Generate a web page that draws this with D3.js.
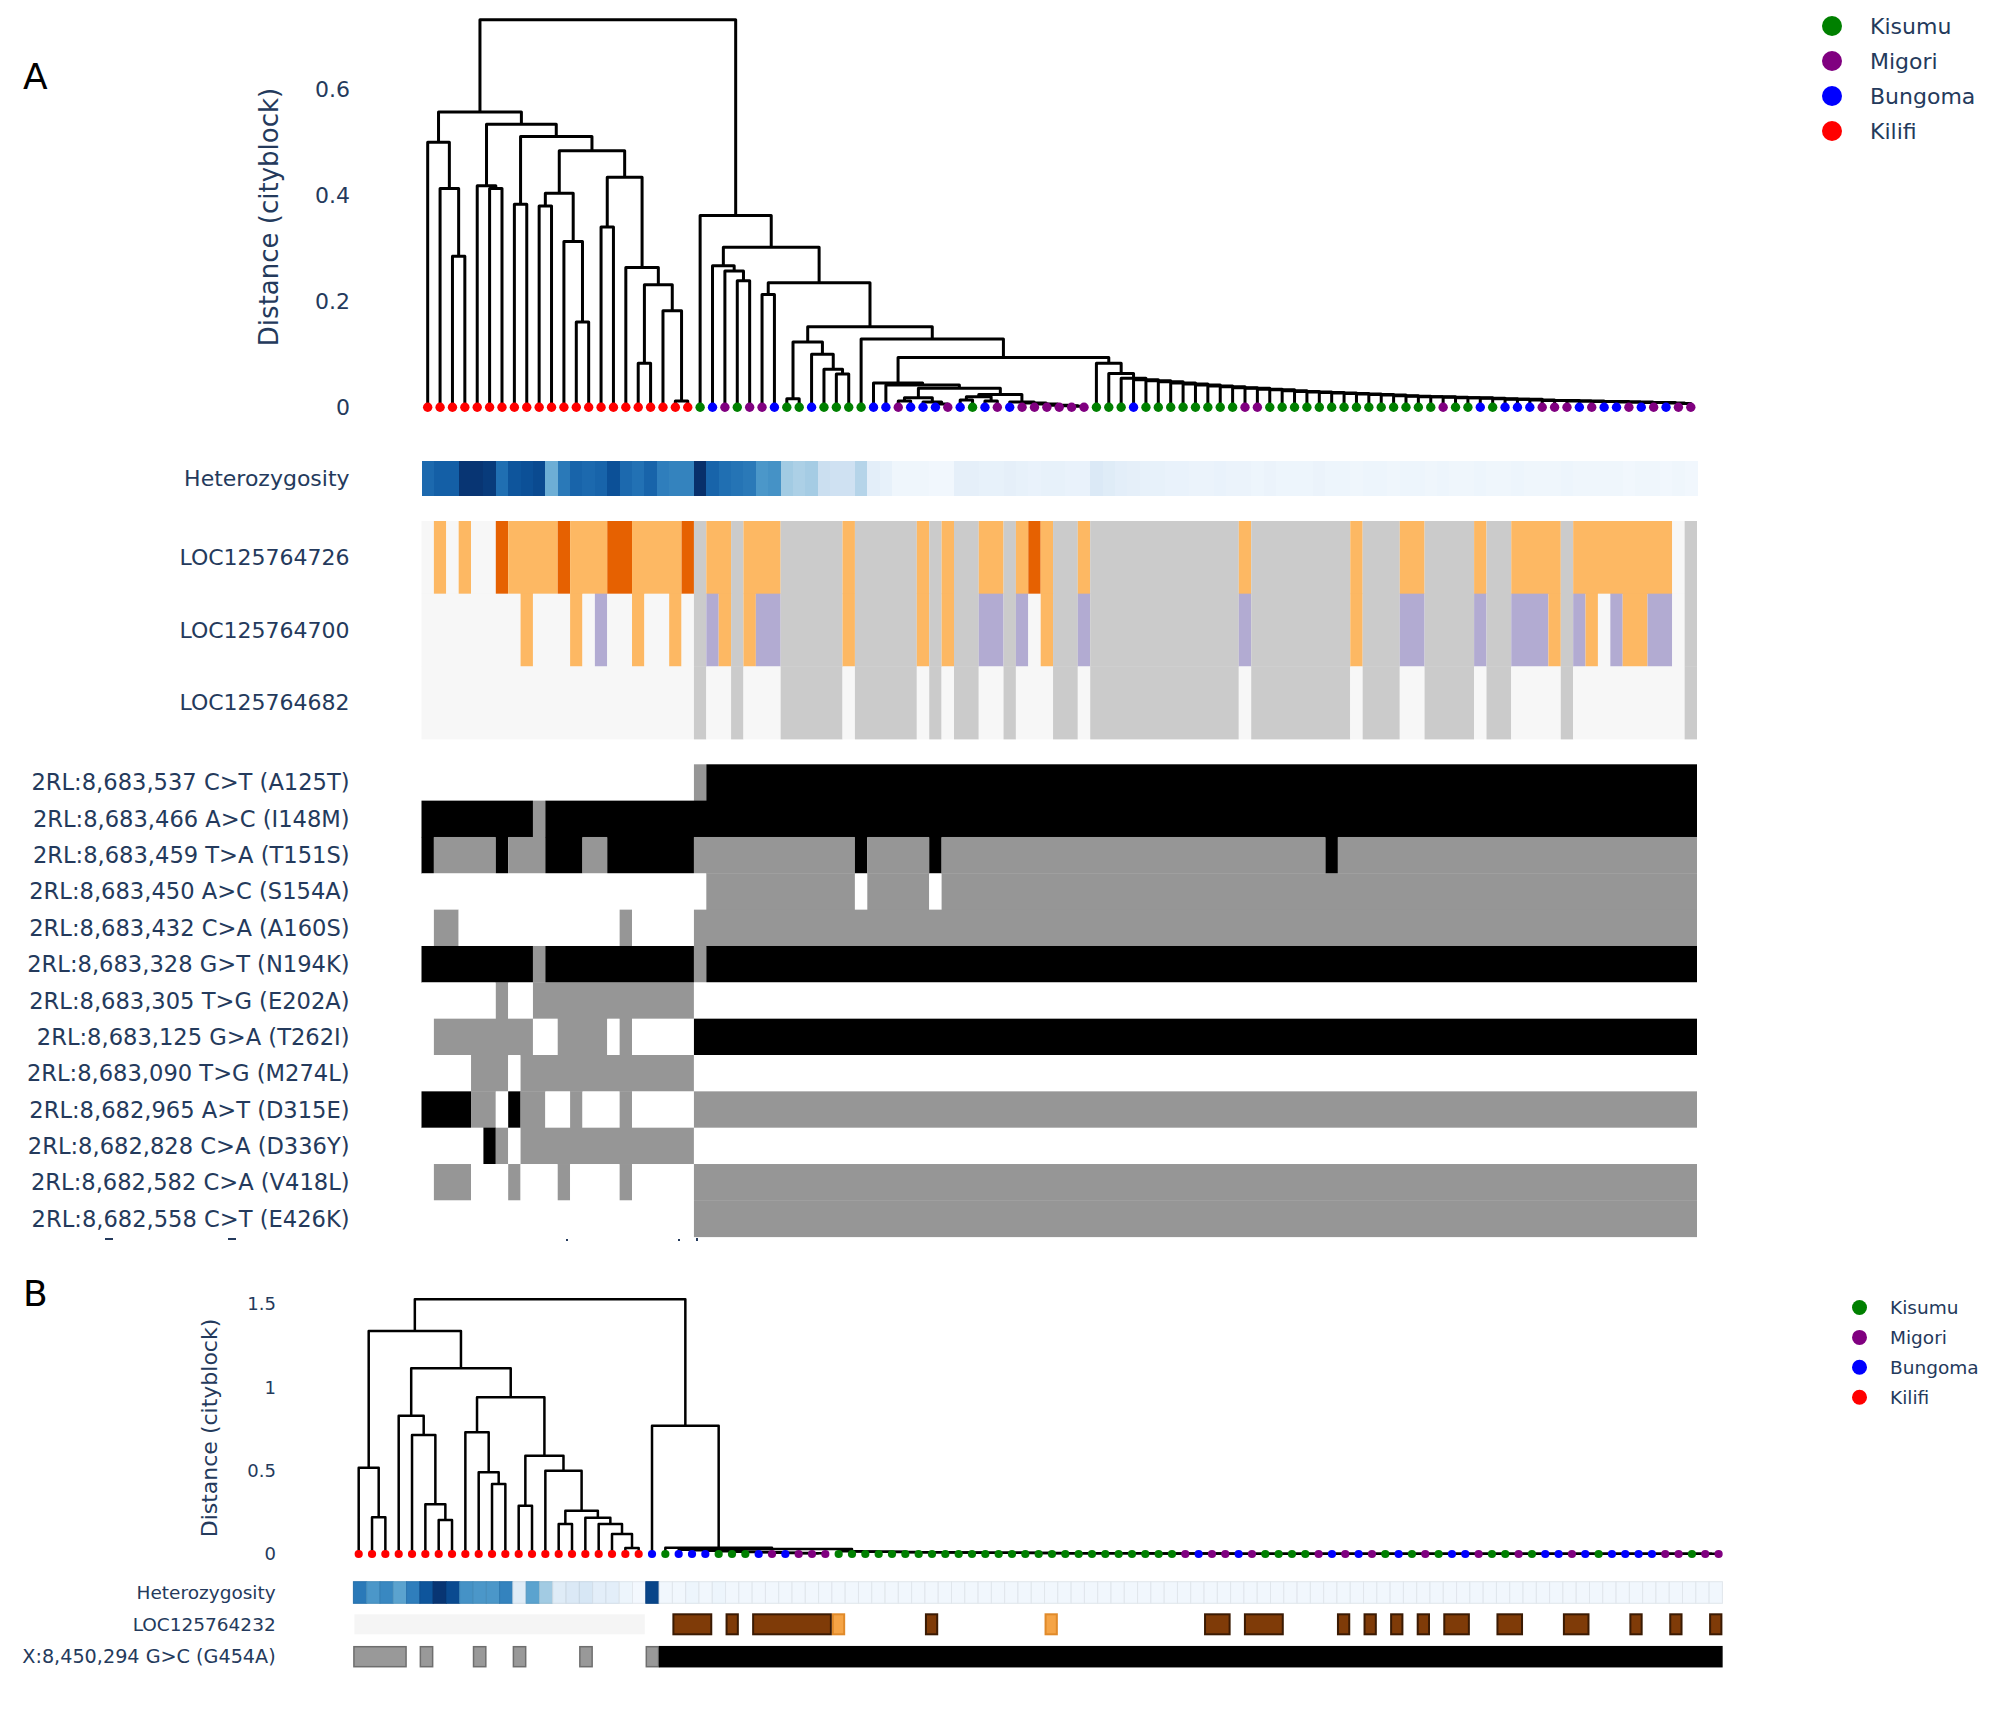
<!DOCTYPE html>
<html><head><meta charset="utf-8">
<script src="https://cdn.jsdelivr.net/npm/d3@7"></script>
<style>
body{margin:0;background:#fff}
svg text{font-family:"DejaVu Sans",Verdana,sans-serif;fill:#243a5c}
</style></head>
<body><svg id="c" width="2008" height="1727"></svg>
<script>
// ================= DATA =================
const populations = ["Kisumu","Migori","Bungoma","Kilifi"];
const popCodes    = ["K","M","B","L"];
const popColors   = ["green","purple","blue","red"];

// leaf order / population of each sample (K=Kisumu, M=Migori, B=Bungoma, L=Kilifi)
const leafPopA = ("LLLLLLLLLLLLLLLLLLLLLL"+"KBMKMMBKKBKKKKBBMBBBMBKBMB"+"MMMMMM"+"KKK"+"B"+"KKKKKKKK"+"MM"+"KKKKKKKKKKKKKK"+"MKKBKBBBMMMBMBBMBMBMM").split("");
const leafPopB = ("LLLLLLLLLLLLLLLLLLLLLL"+"BKBBBKKKBMBMMM"+"KKKKKKKKKKKKKKKK"+"KKKKKKKKKK"+"MBMMBMKKKKMBMBMKBKMKBBMKKMKBBMBKBBBBMMKMM").split("");

// dendrogram topology (node heights after ':')
const treeA_left  = "((0,(1,(2,3):0.285):0.413):0.5,((4,(5,6):0.413):0.418,((7,8):0.383,(((9,10):0.38,(11,(12,13):0.161):0.313):0.404,((14,15):0.34,(16,((17,18):0.083,(19,(20,21):0.012):0.182):0.231):0.264):0.434):0.484):0.511):0.534):0.557";
const treeA_midB  = "((38,39):0.012,(40,(41,42):0.006):0.01):0.018";
const treeA_midF1 = "((43,44):0.014,(45,46):0.012):0.02";
const treeA_midF2 = "(47,(48,(49,(50,(51,(52,53):0.002):0.003):0.004):0.006):0.008):0.01";
const treeA_mid   = "(36,(37,(MB,(MF1,MF2):0.024):0.036):0.042):0.046";
const treeA_right = "(22,((23,(24,(25,26):0.239):0.257):0.267,((27,28):0.213,(((29,30):0.016,(31,(32,(33,34):0.063):0.072):0.1):0.123,(35,(MID,(54,(55,CAT):0.064):0.083):0.094):0.129):0.152):0.235):0.302):0.362";
const rootA_h = 0.731;
const catA_leaves = [56,102];
const catA_h = [0.055,0.052,0.050,0.048,0.046,0.044,0.042,0.040,0.039,0.037,
                0.036,0.034,0.033,0.031,0.030,0.029,0.028,0.027,0.026,0.025,
                0.024,0.023,0.022,0.021,0.020,0.020,0.019,0.018,0.018,0.017,
                0.016,0.015,0.015,0.014,0.013,0.013,0.012,0.012,0.011,0.011,
                0.010,0.010,0.009,0.009,0.008,0.007];

const treeB_left = "((0,(1,2):0.22):0.518,((3,(4,(5,(6,7):0.204):0.298):0.714):0.83,((8,(9,(10,11):0.42):0.49):0.73,((12,13):0.29,(14,((15,16):0.18,(17,(18,(19,(20,21):0.036):0.12):0.18):0.217):0.26):0.50):0.59):0.94):1.114):1.338";
const treeB_right = "(22,(23,(CAT1,CAT2):0.03):0.038):0.77";
const rootB_h = 1.528;
const catB1_leaves = [24,35];
const catB1_h = [0.026,0.022,0.019,0.016,0.014,0.012,0.010,0.008,0.006,0.005,0.004];
const catB2_leaves = [36,102];
const catB2_h = [0.016,0.015,0.014,0.013,0.012,0.011,0.010,0.010,0.009,0.009,
                 0.008,0.008,0.007,0.007,0.006,0.006,0.005,0.005,0.005,0.004,
                 0.004,0.004,0.004,0.003,0.003,0.003,0.003,0.003,0.003,0.002,
                 0.002,0.002,0.002,0.002,0.002,0.002,0.002,0.002,0.002,0.002,
                 0.001,0.001,0.001,0.001,0.001,0.001,0.001,0.001,0.001,0.001,
                 0.001,0.001,0.001,0.001,0.001,0.001,0.001,0.001,0.001,0.001,
                 0.001,0.001,0.001,0.001,0.001,0.001];

const yTicksA = [0,0.2,0.4,0.6];
const yTicksB = [0,0.5,1,1.5];
const yTitle = "Distance (cityblock)";

// heterozygosity (relative, 0..1) per leaf column
const hetA = [0.78,0.82,0.82,0.98,0.98,0.96,0.76,0.86,0.88,0.9,
              0.5,0.72,0.8,0.78,0.8,0.88,0.78,0.75,0.8,0.7,
              0.68,0.68,1.0,0.8,0.76,0.74,0.72,0.6,0.62,0.36,
              0.33,0.35,0.22,0.2,0.2,0.3,0.1,0.08,0.04,0.04,
              0.04,0.03,0.03,0.09,0.09,0.08,0.08,0.09,0.08,0.07,
              0.08,0.08,0.07,0.07,0.14,0.12,0.1,0.09,0.08,0.08,
              0.07,0.07,0.06,0.06,0.07,0.06,0.06,0.05,0.06,0.05,
              0.05,0.05,0.06,0.05,0.05,0.04,0.05,0.05,0.04,0.05,
              0.05,0.04,0.05,0.04,0.04,0.05,0.04,0.04,0.05,0.04,
              0.04,0.04,0.05,0.04,0.04,0.04,0.04,0.03,0.04,0.04,
              0.03,0.04,0.03];
const hetB = [0.72,0.6,0.66,0.55,0.7,0.86,0.98,0.9,0.62,0.6,
              0.6,0.68,0.12,0.55,0.36,0.12,0.14,0.16,0.1,0.1,
              0.05,0.02,0.92,0.03,0.03,0.05,0.03,0.05,0.03,0.03,
              0.03,0.03,0.03,0.03,0.03,0.03,0.03,0.03,0.03,0.03,
              0.03,0.03,0.03,0.03,0.03,0.03,0.03,0.03,0.03,0.03,
              0.03,0.03,0.03,0.03,0.03,0.03,0.03,0.03,0.03,0.03,
              0.03,0.03,0.03,0.03,0.03,0.03,0.03,0.03,0.03,0.03,
              0.03,0.03,0.03,0.03,0.03,0.03,0.03,0.03,0.03,0.03,
              0.03,0.03,0.03,0.03,0.03,0.03,0.03,0.03,0.03,0.03,
              0.03,0.03,0.03,0.03,0.03,0.03,0.03,0.03,0.03,0.03,
              0.03,0.03,0.03];

// copy number rows as runs [state, count]; D=dark amp, O=amp, N=normal, V=deletion, X=missing, W=blank, R=brown
const cnvLabelsA = ["LOC125764726","LOC125764700","LOC125764682"];
const cnv726 = [["N",1],["O",1],["N",1],["O",1],["N",2],["D",1],["O",4],["D",1],["O",3],["D",2],["O",4],["D",1],
  ["X",1],["O",2],["X",1],["O",3],["X",5],["O",1],["X",5],["O",1],["X",1],["O",1],["X",2],["O",2],["X",1],["O",1],["D",1],["O",1],["X",2],["O",1],
  ["X",12],["O",1],["X",8],["O",1],["X",3],["O",2],["X",4],["O",1],["X",2],["O",4],["X",1],["O",8],["N",1],["X",1]];
const cnv700 = [["N",8],["O",1],["N",3],["O",1],["N",1],["V",1],["N",2],["O",1],["N",2],["O",1],["N",1],
  ["X",1],["V",1],["O",1],["X",1],["O",1],["V",2],["X",5],["O",1],["X",5],["O",1],["X",1],["O",1],["X",2],["V",2],["X",1],["V",1],["N",1],["O",1],["X",2],["V",1],
  ["X",12],["V",1],["X",8],["O",1],["X",3],["V",2],["X",4],["V",1],["X",2],["V",3],["O",1],["X",1],["V",1],["O",1],["N",1],["V",1],["O",2],["V",2],["N",1],["X",1]];
const cnv682 = [["N",22],["X",1],["N",2],["X",1],["N",3],["X",5],["N",1],["X",5],["N",1],["X",1],["N",1],["X",2],["N",2],["X",1],["N",3],["X",2],["N",1],
  ["X",12],["N",1],["X",8],["N",1],["X",3],["N",2],["X",4],["N",1],["X",2],["N",4],["X",1],["N",9],["X",1]];
const cnvLabelB = "LOC125764232";
const cnv232 = [["N",22],["W",2],["R",3],["W",1],["R",1],["W",1],["R",6],["O",1],["W",6],["R",1],["W",8],["O",1],["W",11],
  ["R",2],["W",1],["R",3],["W",4],["R",1],["W",1],["R",1],["W",1],["R",1],["W",1],["R",1],["W",1],["R",2],["W",2],["R",2],["W",3],["R",2],["W",3],["R",1],["W",2],["R",1],["W",2],["R",1]];

// genotype rows as runs [alt allele count, n]
const snpLabelsA = ["2RL:8,683,537 C>T (A125T)","2RL:8,683,466 A>C (I148M)","2RL:8,683,459 T>A (T151S)","2RL:8,683,450 A>C (S154A)",
  "2RL:8,683,432 C>A (A160S)","2RL:8,683,328 G>T (N194K)","2RL:8,683,305 T>G (E202A)","2RL:8,683,125 G>A (T262I)",
  "2RL:8,683,090 T>G (M274L)","2RL:8,682,965 A>T (D315E)","2RL:8,682,828 C>A (D336Y)","2RL:8,682,582 C>A (V418L)","2RL:8,682,558 C>T (E426K)"];
const snpRunsA = [
  [[0,22],[1,1],[2,80]],
  [[2,9],[1,1],[2,93]],
  [[2,1],[1,5],[2,1],[1,3],[2,3],[1,2],[2,7],[1,13],[2,1],[1,5],[2,1],[1,31],[2,1],[1,29]],
  [[0,23],[1,12],[0,1],[1,5],[0,1],[1,61]],
  [[0,1],[1,2],[0,13],[1,1],[0,5],[1,81]],
  [[2,9],[1,1],[2,12],[1,1],[2,80]],
  [[0,6],[1,1],[0,2],[1,13],[0,81]],
  [[0,1],[1,8],[0,2],[1,4],[0,1],[1,1],[0,5],[2,81]],
  [[0,4],[1,3],[0,1],[1,14],[0,81]],
  [[2,4],[1,2],[0,1],[2,1],[1,2],[0,2],[1,1],[0,3],[1,1],[0,5],[1,81]],
  [[0,5],[2,1],[1,1],[0,1],[1,14],[0,81]],
  [[0,1],[1,3],[0,3],[1,1],[0,3],[1,1],[0,4],[1,1],[0,5],[1,81]],
  [[0,22],[1,81]]
];
const snpLabelB = "X:8,450,294 G>C (G454A)";
const snpRunsB = [[1,4],[0,1],[1,1],[0,3],[1,1],[0,2],[1,1],[0,4],[1,1],[0,4],[1,1],[2,80]];

// ================= HELPERS =================
function runCells(runs){ let s=0; return runs.map(([v,n])=>{ const c={v,start:s,n}; s+=n; return c; }); }
function catNewick(range, hs){
  const leaves = d3.range(range[0], range[1]+1);
  let s = `(${leaves[leaves.length-2]},${leaves[leaves.length-1]}):${hs[hs.length-1]}`;
  for(let k=leaves.length-3;k>=0;k--) s = `(${leaves[k]},${s}):${hs[k]}`;
  return s;
}
function parseNewick(str){
  const s = str.replace(/\s+/g,""); let i=0;
  function num(){ if(s[i]===":"){i++; let t=""; while(i<s.length && /[0-9.eE-]/.test(s[i])) t+=s[i++]; return +t;} return 0; }
  function node(){
    if(s[i]==="("){ i++; const kids=[node()]; while(s[i]===","){i++; kids.push(node());} i++; return {children:kids,h:num()}; }
    let t=""; while(i<s.length && /[0-9]/.test(s[i])) t+=s[i++]; num(); return {leaf:+t,h:0};
  }
  return node();
}
const colorOf = code => popColors[popCodes.indexOf(code)];

const svg = d3.select("#c");
svg.append("rect").attr("width",2008).attr("height",1727).attr("fill","#fff");

function dendro(g, root, xLeaf, y, lw, leafPop, r){
  const h = d3.hierarchy(root, d=>d.children);
  h.eachAfter(d=>{ d.x = d.children ? d3.mean(d.children, c=>c.x) : xLeaf(d.data.leaf); });
  g.append("g").attr("fill","none").attr("stroke","#000").attr("stroke-width",lw).attr("stroke-linejoin","round")
    .selectAll("path").data(h.descendants().filter(d=>d.children && d.children.length===2)).join("path")
    .attr("d", d=>{ const [a,b]=d.children; return `M${a.x},${y(a.data.h)}V${y(d.data.h)}H${b.x}V${y(b.data.h)}`; });
  g.append("g").selectAll("circle").data(h.leaves()).join("circle")
    .attr("cx", d=>d.x).attr("cy", y(0)).attr("r", r)
    .attr("fill", d=>colorOf(leafPop[d.data.leaf]));
}
function yAxis(g, y, ticks, x, fs, titleX, titleSize, yc){
  const ax = g.append("g").attr("transform",`translate(${x},0)`)
    .call(d3.axisLeft(y).tickValues(ticks).tickSize(0).tickPadding(0).tickFormat(d3.format("~g")));
  ax.select(".domain").remove();
  ax.selectAll("text").attr("font-size",fs).attr("fill","#243a5c").style("font-family","DejaVu Sans");
  g.append("text").attr("transform",`translate(${titleX},${yc}) rotate(-90)`)
    .attr("text-anchor","middle").attr("dominant-baseline","central").attr("font-size",titleSize).text(yTitle);
}
function rowLabel(g, x, y, text, fs){
  g.append("text").attr("x",x).attr("y",y).attr("text-anchor","end").attr("dominant-baseline","central").attr("font-size",fs).text(text);
}
function legend(g, x, y0, dy, r, fs, tx){
  populations.forEach((p,i)=>{
    g.append("circle").attr("cx",x).attr("cy",y0+i*dy).attr("r",r).attr("fill",popColors[i]);
    g.append("text").attr("x",tx).attr("y",y0+i*dy).attr("dominant-baseline","central").attr("font-size",fs).text(p);
  });
}
function runRow(g, band, runs, y, h, fill, stroke, sw, inset){
  const step = band.step();
  g.append("g").selectAll("rect").data(runCells(runs)).join("rect")
    .attr("x", d=>band(d.start)+(inset||0)).attr("y", y)
    .attr("width", d=>d.n*step-2*(inset||0)).attr("height", h)
    .attr("fill", d=>fill(d.v)).attr("stroke", d=>stroke ? stroke(d.v) : "none").attr("stroke-width", sw||0);
}

// ================= PANEL A =================
const gA = svg.append("g");
const N = leafPopA.length;
const bandA = d3.scaleBand().domain(d3.range(N)).range([421.5,1697]);
const leafXA = i => bandA(i) + bandA.bandwidth()/2;
const yA = d3.scaleLinear().domain([0,0.6]).range([407.3,89.3]);
const midA = treeA_mid.replace("MB",treeA_midB).replace("MF1",treeA_midF1).replace("MF2",treeA_midF2);
const newickA = `(${treeA_left},${treeA_right.replace("MID",midA).replace("CAT",catNewick(catA_leaves,catA_h))}):${rootA_h}`;
dendro(gA, parseNewick(newickA), leafXA, yA, 3, leafPopA, 4.7);
yAxis(gA, yA, yTicksA, 350, 22, 269, 26, 217);
legend(gA, 1832, 26, 35, 10, 22, 1870);
gA.append("text").attr("x",23).attr("y",89).attr("font-size",36).style("fill","#000").text("A");

const labX_A = 349.6, fsA = 22.6;
gA.append("g").attr("shape-rendering","crispEdges").selectAll("rect").data(hetA).join("rect")
  .attr("x",(d,i)=>bandA(i)).attr("y",461).attr("width",bandA.bandwidth()+0.6).attr("height",34.6)
  .attr("fill",d=>d3.interpolateBlues(d));
rowLabel(gA, labX_A, 478.3, "Heterozygosity", 22);

const cnvColorA = {D:"#e66101",O:"#fdb863",N:"#f7f7f7",V:"#b2abd2",X:"#cbcbcb"};
const cnvRowsA = [cnv726,cnv700,cnv682];
const yCnv = d3.scaleBand().domain(d3.range(3)).range([521,739]);
cnvRowsA.forEach((runs,r)=>{
  runRow(gA, bandA, runs, yCnv(r), yCnv.bandwidth()+0.4, v=>cnvColorA[v]);
  rowLabel(gA, labX_A, yCnv(r)+yCnv.bandwidth()/2, cnvLabelsA[r], 22);
});

const gtColor = ["#ffffff","#969696","#000000"];
const ySnp = d3.scaleBand().domain(d3.range(snpRunsA.length)).range([764.3,1236.7]);
snpRunsA.forEach((runs,r)=>{
  runRow(gA, bandA, runs, ySnp(r), ySnp.bandwidth()+0.4, v=>gtColor[v]);
  rowLabel(gA, labX_A, ySnp(r)+ySnp.bandwidth()/2, snpLabelsA[r], fsA);
});
[[105,1238,8,2],[228,1238,8,2],[566,1239,2,2],[678,1239,2,2],[696,1238,2,3]].forEach(([x,y,w,h])=>
  gA.append("rect").attr("x",x).attr("y",y).attr("width",w).attr("height",h).attr("fill","#243a5c"));

// ================= PANEL B =================
const gB = svg.append("g");
const bandB = d3.scaleBand().domain(d3.range(N)).range([353.4,1722.4]);
const leafXB = d3.scaleLinear().domain([0,N-1]).range([358.7,1718.6]);
const yB = d3.scaleLinear().domain([0,1.5]).range([1554,1304]);
const newickB = `(${treeB_left},${treeB_right.replace("CAT1",catNewick(catB1_leaves,catB1_h)).replace("CAT2",catNewick(catB2_leaves,catB2_h))}):${rootB_h}`;
dendro(gB, parseNewick(newickB), leafXB, yB, 2.5, leafPopB, 4.1);
yAxis(gB, yB, yTicksB, 276, 18, 209, 22, 1428);
legend(gB, 1859.5, 1307.5, 29.9, 7.5, 18.5, 1890);
gB.append("text").attr("x",23).attr("y",1306).attr("font-size",36).style("fill","#000").text("B");

const labX_B = 275.7;
gB.append("g").selectAll("rect").data(hetB).join("rect")
  .attr("x",(d,i)=>bandB(i)).attr("y",1581.7).attr("width",bandB.bandwidth()).attr("height",21.6)
  .attr("fill",d=>d3.interpolateBlues(d)).attr("stroke",d=>d3.color(d3.interpolateBlues(d)).darker(0.2)).attr("stroke-width",1);
rowLabel(gB, labX_B, 1592.5, "Heterozygosity", 18.5);

const cnvColorB = {N:"#f5f5f5",W:"none",R:"#7f3b08",O:"#f5a446"};
const cnvStrokeB = {N:"none",W:"none",R:"#3a1a03",O:"#e08a2a"};
runRow(gB, bandB, cnv232, 1614.3, 20, v=>cnvColorB[v], v=>cnvStrokeB[v], 2, 1);
rowLabel(gB, labX_B, 1624.2, cnvLabelB, 18.5);

const gtFillB = ["none","#999999","#000000"];
const gtStrokeB = ["none","#6e6e6e","#000"];
runRow(gB, bandB, snpRunsB, 1646.7, 20, v=>gtFillB[v], v=>gtStrokeB[v], 1.5, 0.5);
rowLabel(gB, labX_B, 1656.7, snpLabelB, 19.2);
</script>
</body></html>
